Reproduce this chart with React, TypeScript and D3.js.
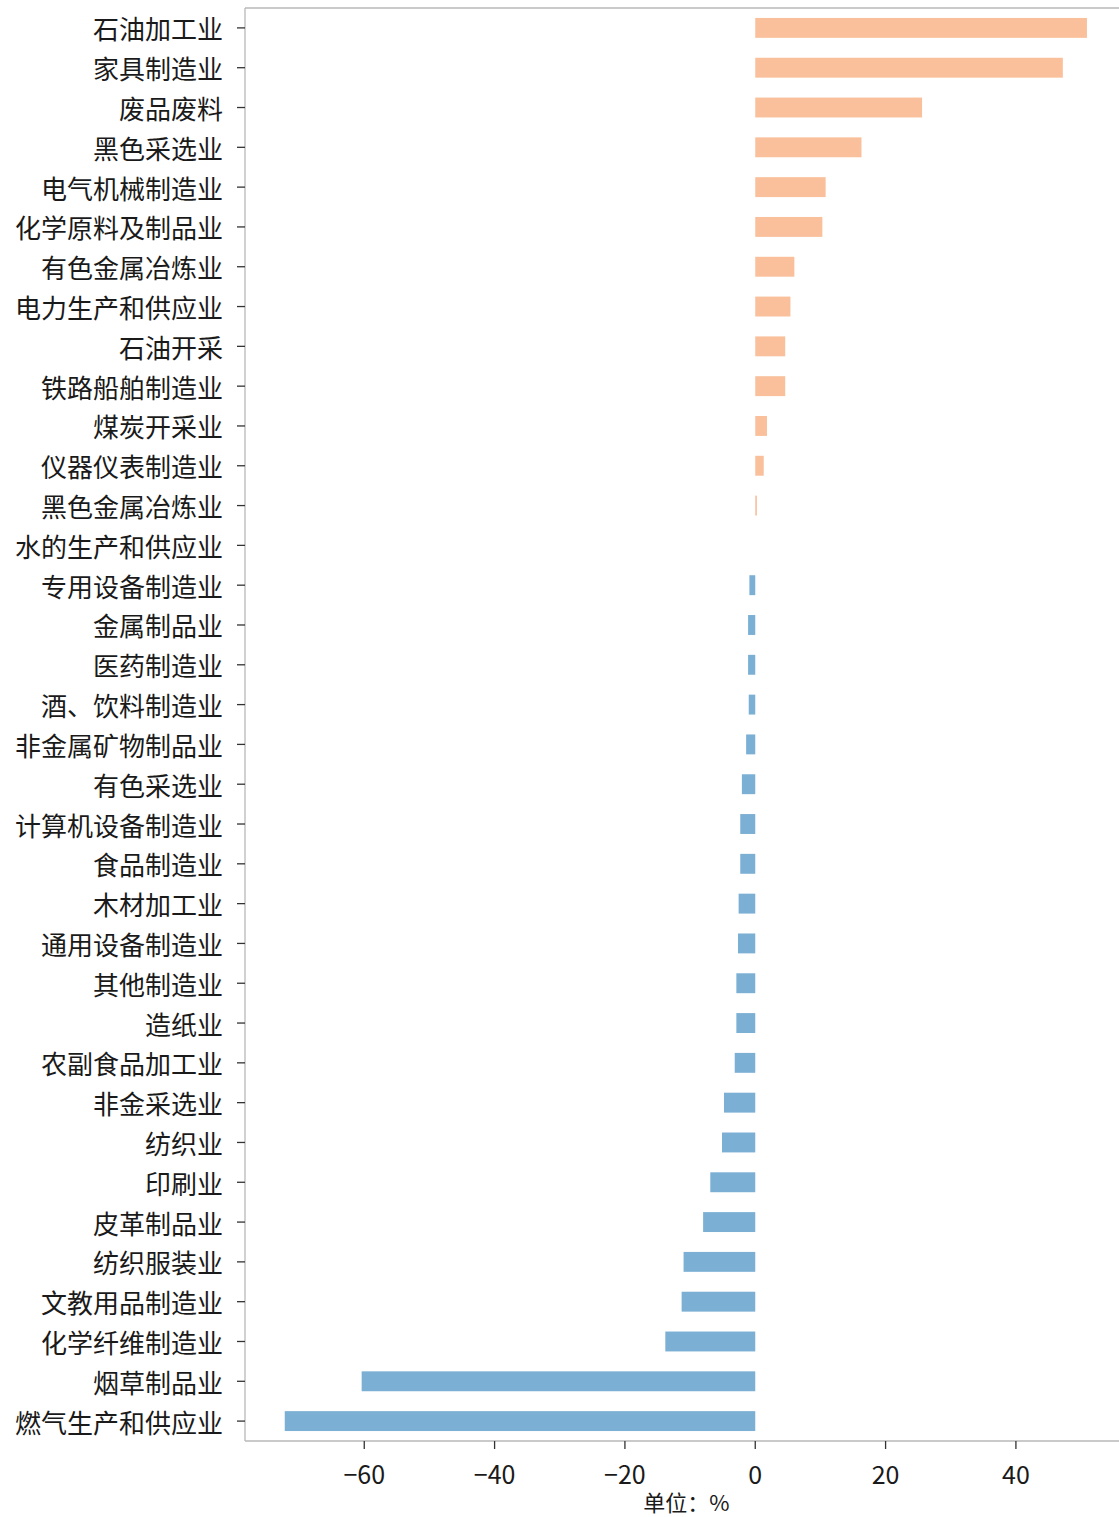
import React from "react";
import * as d3 from "d3";

// Industry categories, top to bottom
const categories: string[] = [
  "石油加工业", "家具制造业", "废品废料", "黑色采选业", "电气机械制造业",
  "化学原料及制品业", "有色金属冶炼业", "电力生产和供应业", "石油开采", "铁路船舶制造业",
  "煤炭开采业", "仪器仪表制造业", "黑色金属冶炼业", "水的生产和供应业", "专用设备制造业",
  "金属制品业", "医药制造业", "酒、饮料制造业", "非金属矿物制品业", "有色采选业",
  "计算机设备制造业", "食品制造业", "木材加工业", "通用设备制造业", "其他制造业",
  "造纸业", "农副食品加工业", "非金采选业", "纺织业", "印刷业",
  "皮革制品业", "纺织服装业", "文教用品制造业", "化学纤维制造业", "烟草制品业",
  "燃气生产和供应业",
];

// Growth rate (%) per industry
const values: number[] = [
  50.9, 47.2, 25.6, 16.3, 10.8,
  10.3, 6.0, 5.4, 4.6, 4.6,
  1.8, 1.3, 0.25, 0.0, -0.9,
  -1.1, -1.1, -1.0, -1.4, -2.05,
  -2.3, -2.3, -2.55, -2.65, -2.9,
  -2.9, -3.15, -4.8, -5.1, -6.9,
  -8.0, -11.0, -11.3, -13.8, -60.4,
  -72.2,
];

const xTicks: number[] = [-60, -40, -20, 0, 20, 40];
const xDomain: [number, number] = [-78.3, 57.2];
const xLabel = "单位：%";

const W = 1119;
const H = 1517;
const left = 245;
const right = 1128;
const top = 8;
const bottom = 1441;

const posColor = "#f9c09b";
const negColor = "#7bafd4";
const font = "'Noto Sans CJK SC', 'Noto Sans', sans-serif";

export default function App() {
  const x = d3.scaleLinear().domain(xDomain).range([left, right]);
  const y = d3
    .scaleBand<string>()
    .domain(categories)
    .range([top, bottom])
    .paddingInner(0.5)
    .paddingOuter(0.25);

  return (
    <svg
      width={W}
      height={H}
      style={{ position: "absolute", left: 0, top: 0, display: "block", background: "#fff" }}
      fontFamily={font}
    >
      <rect x={0} y={0} width={W} height={H} fill="#fff" />
      {/* bars */}
      {categories.map((c, i) => {
        const v = values[i];
        const xa = x(Math.min(0, v));
        const xb = x(Math.max(0, v));
        return (
          <rect
            key={c}
            x={xa}
            y={y(c)!}
            width={Math.max(0, xb - xa)}
            height={y.bandwidth()}
            fill={v >= 0 ? posColor : negColor}
          />
        );
      })}
      {/* spines */}
      <line x1={left} x2={left} y1={top} y2={bottom} stroke="#b8b8b8" strokeWidth={1.3} />
      <line x1={left} x2={right} y1={top} y2={top} stroke="#b8b8b8" strokeWidth={1.3} />
      <line x1={left} x2={right} y1={bottom} y2={bottom} stroke="#b8b8b8" strokeWidth={1.3} />
      {/* y ticks and labels */}
      {categories.map((c) => {
        const cy = y(c)! + y.bandwidth() / 2;
        return (
          <g key={"t" + c}>
            <line x1={left - 8} x2={left} y1={cy} y2={cy} stroke="#333" strokeWidth={1.3} />
            <text
              x={223}
              y={cy}
              textAnchor="end"
              dominantBaseline="central"
              fontSize={26}
              fill="#1a1a1a"
            >
              {c}
            </text>
          </g>
        );
      })}
      {/* x ticks and labels */}
      {xTicks.map((t) => (
        <g key={"x" + t}>
          <line x1={x(t)} x2={x(t)} y1={bottom} y2={bottom + 8} stroke="#333" strokeWidth={1.3} />
          <text
            x={x(t)}
            y={1473}
            textAnchor="middle"
            dominantBaseline="central"
            fontSize={25}
            fill="#1a1a1a"
          >
            {t < 0 ? "−" + Math.abs(t) : String(t)}
          </text>
        </g>
      ))}
      <text
        x={(left + right) / 2}
        y={1501}
        textAnchor="middle"
        dominantBaseline="central"
        fontSize={22}
        fill="#1a1a1a"
      >
        {xLabel}
      </text>
    </svg>
  );
}
